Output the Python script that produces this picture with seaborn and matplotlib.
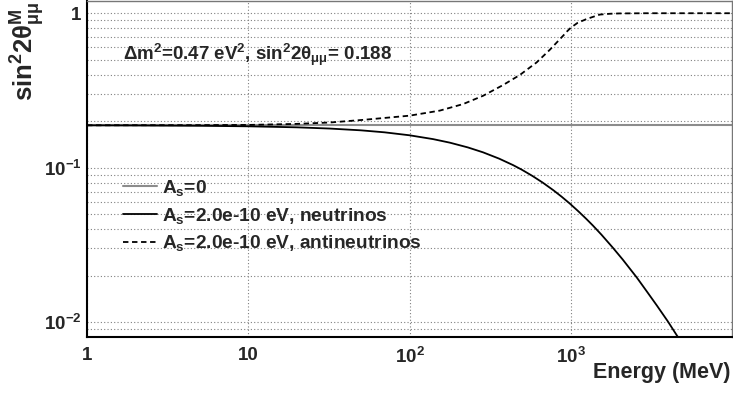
import matplotlib
matplotlib.use("Agg")
import matplotlib.pyplot as plt
import matplotlib.ticker as mticker
import numpy as np
import seaborn as sns

# Energy grid (MeV) and effective mixing for each case
energy_nu = [1, 2, 5, 10, 20, 32, 50, 70, 100, 140, 178, 230, 286, 360, 440,
             495, 580, 671, 780, 880, 987, 1120, 1250, 1371, 1550, 1824, 2100,
             2570, 3000, 3419, 4000, 4547, 4700]
mix_nu = [0.1878, 0.1875, 0.1866, 0.1852, 0.1824, 0.1791, 0.1744, 0.1693,
          0.1620, 0.1530, 0.1451, 0.1352, 0.1256, 0.1143, 0.1037, 0.0972,
          0.0882, 0.0799, 0.0714, 0.0647, 0.0585, 0.0519, 0.0465, 0.0422,
          0.0368, 0.0303, 0.0254, 0.0194, 0.0155, 0.0128, 0.0101, 0.0082,
          0.0078]

energy_anu = [1, 5, 10, 20, 32, 52, 100, 154, 215, 286, 381, 483, 614, 742,
              897, 950, 1000, 1100, 1253, 1514, 1750, 2000, 3000, 10000]
mix_anu = [0.188, 0.1885, 0.189, 0.192, 0.196, 0.204, 0.217, 0.234, 0.258,
           0.292, 0.343, 0.398, 0.480, 0.580, 0.715, 0.764, 0.805, 0.865,
           0.917, 0.980, 0.992, 0.997, 1.0, 1.0]

energy_vac = [1, 10000]
mix_vac = [0.188, 0.188]

labels = [r"A$_{\mathregular{s}}$=0",
          r"A$_{\mathregular{s}}$=2.0e-10 eV, neutrinos",
          r"A$_{\mathregular{s}}$=2.0e-10 eV, antineutrinos"]

xtick_vals = [1, 10, 100, 1000]
xtick_labels = ["1", "10", r"10$^{\mathregular{2}}$", r"10$^{\mathregular{3}}$"]
ytick_vals = [0.01, 0.1, 1]
ytick_labels = [r"10$^{\mathregular{-2}}$", r"10$^{\mathregular{-1}}$", "1"]

sns.set_style("white")
plt.rcParams["font.family"] = ["Liberation Sans", "DejaVu Sans"]
plt.rcParams["font.weight"] = "bold"
plt.rcParams["mathtext.fontset"] = "custom"
plt.rcParams["mathtext.rm"] = "Liberation Sans:bold"
plt.rcParams["mathtext.it"] = "Liberation Sans:bold"
plt.rcParams["mathtext.bf"] = "Liberation Sans:bold"
plt.rcParams["mathtext.sf"] = "Liberation Sans"

fig = plt.figure(figsize=(7.33, 3.94), dpi=100)
ax = fig.add_axes([87 / 733, 57 / 394, 645 / 733, 336 / 394])

sns.lineplot(x=energy_vac, y=mix_vac, ax=ax, color="#8c8c8c", lw=1.5,
             label=labels[0], sort=False)
sns.lineplot(x=energy_nu, y=mix_nu, ax=ax, color="black", lw=1.3,
             label=labels[1], sort=False)
sns.lineplot(x=energy_anu, y=mix_anu, ax=ax, color="black", lw=1.3,
             label=labels[2], sort=False, linestyle=(0, (3, 2)))

ax.set_xscale("log")
ax.set_yscale("log")
ax.set_xlim(1, 1e4)
ax.set_ylim(0.008, 1.2)

ax.xaxis.set_major_locator(mticker.FixedLocator(xtick_vals))
ax.xaxis.set_major_formatter(mticker.FixedFormatter(xtick_labels))
ax.xaxis.set_minor_locator(mticker.LogLocator(base=10, subs=np.arange(2, 10), numticks=20))
ax.xaxis.set_minor_formatter(mticker.NullFormatter())
ax.yaxis.set_major_locator(mticker.FixedLocator(ytick_vals))
ax.yaxis.set_major_formatter(mticker.FixedFormatter(ytick_labels))
ax.yaxis.set_minor_locator(mticker.LogLocator(base=10, subs=np.arange(2, 10), numticks=20))
ax.yaxis.set_minor_formatter(mticker.NullFormatter())

ax.tick_params(axis="both", which="both", direction="in", top=False, right=False,
               color="black", width=1.0, labelsize=13.5)
ax.tick_params(axis="x", which="major", length=7.2, pad=7)
ax.tick_params(axis="x", which="minor", length=3.6)
ax.tick_params(axis="y", which="major", length=13, pad=4)
ax.tick_params(axis="y", which="minor", length=6.5)

ax.grid(True, axis="y", which="both", color="#808080", lw=0.8, ls=(0, (1, 2)))
ax.grid(True, axis="x", which="major", color="#808080", lw=0.8, ls=(0, (1, 2)))
ax.set_axisbelow(True)

for side in ("left", "bottom"):
    ax.spines[side].set_color("black")
    ax.spines[side].set_linewidth(1.5)
for side in ("top", "right"):
    ax.spines[side].set_color("#777777")
    ax.spines[side].set_linewidth(1.0)

ax.set_xlabel("Energy (MeV)", fontsize=15.5, fontweight="bold", loc="right")
ax.xaxis.set_label_coords(0.997, -0.122)
ax.xaxis.label.set_va("baseline")
ax.set_ylabel(r"sin$^{\mathregular{2}}$2$\mathsf{\theta}^{\mathregular{M}}_{\mathsf{\mu\mu}}$",
              fontsize=18.5, fontweight="bold", loc="top")
ax.yaxis.set_label_coords(-0.062, 1.0)

fig.text(123 / 733, 1 - 60 / 394,
         r"$\mathsf{\Delta}$m$^{\mathregular{2}}$=0.47 eV$^{\mathregular{2}}$, "
         r"sin$^{\mathregular{2}}$2$\mathsf{\theta}_{\mathsf{\mu\mu}}$= 0.188",
         fontsize=13.5, fontweight="bold", va="baseline", ha="left")

handles, _ = ax.get_legend_handles_labels()
ax.legend(handles, labels, loc="upper left", bbox_to_anchor=(123 / 733, 1 - 178 / 394),
          bbox_transform=fig.transFigure, frameon=False, fontsize=13.8,
          handlelength=1.75, handletextpad=0.3, labelspacing=0.4,
          borderpad=0, borderaxespad=0)

fig.savefig("out.png", dpi=100)
